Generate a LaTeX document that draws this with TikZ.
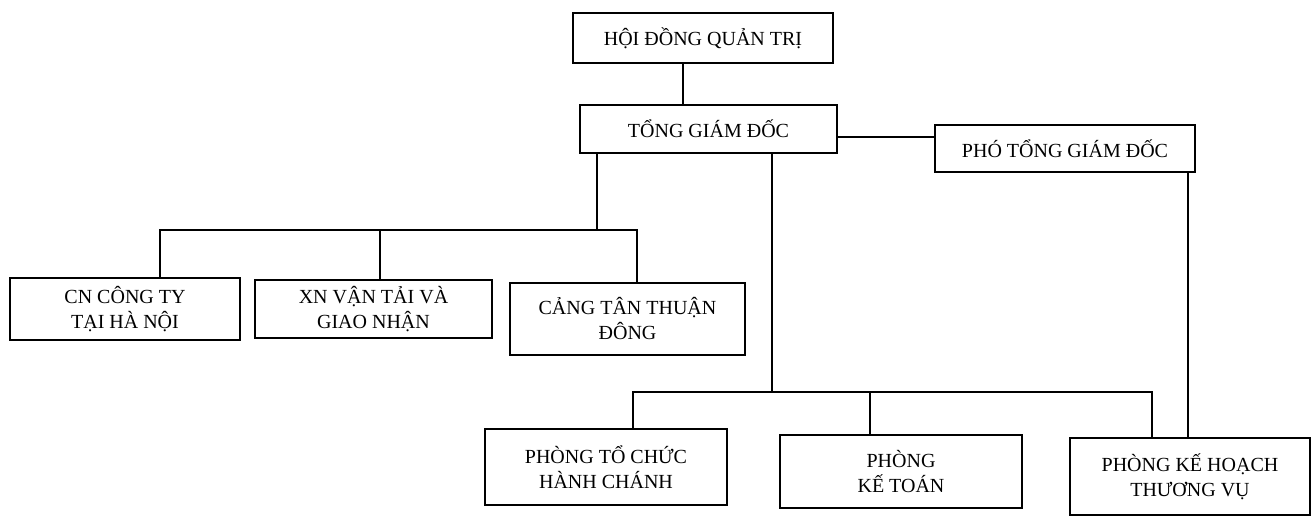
\documentclass[tikz,border=0pt]{standalone}
\usepackage{fontspec}
\setmainfont{Liberation Serif}
\begin{document}
\begin{tikzpicture}[x=1pt,y=-1pt,
  box/.style={draw,line width=2.4pt,inner sep=0pt,align=center,
    font=\fontsize{20}{25}\selectfont},
  conn/.style={line width=2.2pt}]
\useasboundingbox (0,0) rectangle (1314,517);
\node[box,minimum width=260pt,minimum height=50pt] (hdqt) at (703,38) {HỘI ĐỒNG QUẢN TRỊ};
\node[box,minimum width=257pt,minimum height=48pt] (tgd) at (708.5,129) {TỔNG GIÁM ĐỐC};
\node[box,minimum width=260pt,minimum height=47pt] (ptgd) at (1065,148.5) {PHÓ TỔNG GIÁM ĐỐC};
\node[box,minimum width=230pt,minimum height=62pt] (cn) at (125,309) {CN CÔNG TY\\TẠI HÀ NỘI};
\node[box,minimum width=237pt,minimum height=58pt] (xn) at (373.5,309) {XN VẬN TẢI VÀ\\GIAO NHẬN};
\node[box,minimum width=235pt,minimum height=72pt] (cang) at (627.5,319) {CẢNG TÂN THUẬN\\ĐÔNG};
\node[box,minimum width=242pt,minimum height=76pt] (ptc) at (606,467) {PHÒNG TỔ CHỨC\\HÀNH CHÁNH};
\node[box,minimum width=242pt,minimum height=73pt] (kt) at (901,471.5) {PHÒNG\\KẾ TOÁN};
\node[box,minimum width=240pt,minimum height=77pt] (kh) at (1190,476.5) {PHÒNG KẾ HOẠCH\\THƯƠNG VỤ};
% helper coordinates
\coordinate (c1) at (683,0);
\coordinate (c2) at (0,137);
\coordinate (c3) at (1188,0);
\coordinate (bl) at (597,230);
\coordinate (dl1) at (160,230);
\coordinate (dl2) at (380,230);
\coordinate (dl3) at (637,230);
\coordinate (br) at (772,392);
\coordinate (dr1) at (633,392);
\coordinate (dr2) at (870,392);
\coordinate (dr3) at (1152,392);
% connectors
\draw[conn] (hdqt.south -| c1) -- (tgd.north -| c1);
\draw[conn] (tgd.east |- c2) -- (ptgd.west |- c2);
\draw[conn] (tgd.south -| bl) -- (bl);
\draw[conn] (dl1 |- cn.north) -- (dl1) -- (dl3) -- (dl3 |- cang.north);
\draw[conn] (dl2) -- (dl2 |- xn.north);
\draw[conn] (tgd.south -| br) -- (br);
\draw[conn] (dr1 |- ptc.north) -- (dr1) -- (dr3) -- (dr3 |- kh.north);
\draw[conn] (dr2) -- (dr2 |- kt.north);
\draw[conn] (ptgd.south -| c3) -- (kh.north -| c3);
\end{tikzpicture}
\end{document}
